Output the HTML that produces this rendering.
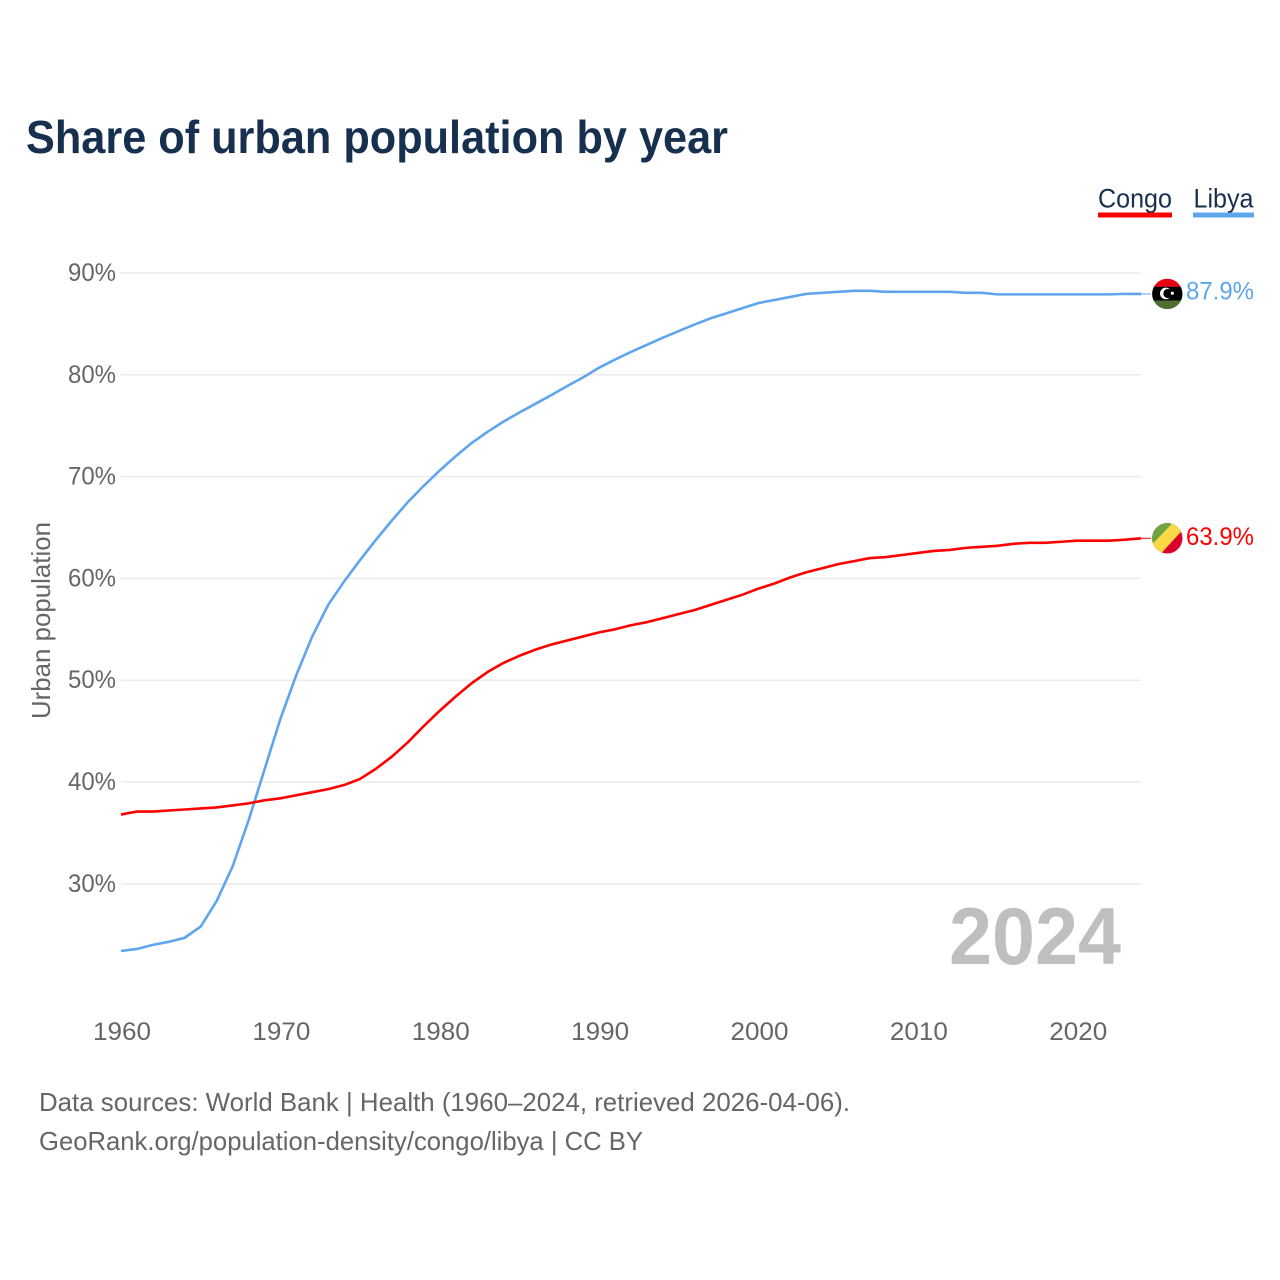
<!DOCTYPE html>
<html lang="en">
<head>
<meta charset="utf-8">
<title>Share of urban population by year</title>
<style>
html,body{margin:0;padding:0;background:#fff}
svg{display:block;font-family:"Liberation Sans",sans-serif}
</style>
</head>
<body>
<svg id="chart" width="1280" height="1280" viewBox="0 0 1280 1280" xmlns="http://www.w3.org/2000/svg">
  <defs>
    <clipPath id="flag-clip"><circle cx="0" cy="0" r="15.2"></circle></clipPath>
  </defs>
  <rect x="0" y="0" width="1280" height="1280" fill="#fff"></rect>
  <text x="26" y="153" font-size="46" font-weight="700" fill="#17304f" textLength="702" lengthAdjust="spacingAndGlyphs">Share of urban population by year</text>

  <g id="grid"></g>
  <g id="y-ticks"></g>
  <g id="x-ticks"></g>
  <text transform="translate(50,620.5) rotate(-90)" text-anchor="middle" font-size="26" fill="#666" textLength="197" lengthAdjust="spacingAndGlyphs">Urban population</text>

  <text x="949" y="964" font-size="81" font-weight="700" fill="#bfbfbf" textLength="172" lengthAdjust="spacingAndGlyphs">2024</text>

  <g id="series"></g>

  <g id="flag-libya">
    <g clip-path="url(#flag-clip)">
      <rect x="-16" y="-16" width="32" height="9" fill="#e70013"></rect>
      <rect x="-16" y="-7.2" width="32" height="14" fill="#000"></rect>
      <rect x="-16" y="6.8" width="32" height="10" fill="#4f7032"></rect>
      <circle cx="-1.5" cy="-0.5" r="5.8" fill="#fff"></circle>
      <circle cx="0.6" cy="-0.5" r="4.6" fill="#000"></circle>
      <circle cx="5" cy="-0.7" r="1.6" fill="#fff"></circle>
    </g>
  </g>
  <g id="flag-congo">
    <g clip-path="url(#flag-clip)">
      <rect x="-16" y="-16" width="32" height="32" fill="#dc002c"></rect>
      <polygon points="-16,-16 10,-16 -16,10" fill="#6ea544"></polygon>
      <polygon points="6,-16 16,-16 16,-9 -7,16 -16,16 -16,7" fill="#fbd945"></polygon>
    </g>
  </g>
  <text id="label-libya" x="1186" font-size="25" fill="#5fa5ee" textLength="68" lengthAdjust="spacingAndGlyphs"></text>
  <text id="label-congo" x="1186" font-size="25" fill="#ff0000" textLength="68" lengthAdjust="spacingAndGlyphs"></text>

  <g>
    <g>
      <text x="1098" y="207.5" font-size="27" fill="#17304f" textLength="74" lengthAdjust="spacingAndGlyphs">Congo</text>
      <rect x="1098" y="212.5" width="74" height="5" fill="#ff0000"></rect>
    </g>
    <g>
      <text x="1193.5" y="207.5" font-size="27" fill="#17304f" textLength="60" lengthAdjust="spacingAndGlyphs">Libya</text>
      <rect x="1193" y="212.5" width="61" height="5" fill="#5fa5ee"></rect>
    </g>
  </g>

  <text x="39" y="1111" font-size="26" fill="#666" textLength="811" lengthAdjust="spacingAndGlyphs">Data sources: World Bank | Health (1960–2024, retrieved 2026-04-06).</text>
  <text x="39" y="1150" font-size="26" fill="#666" textLength="604" lengthAdjust="spacingAndGlyphs">GeoRank.org/population-density/congo/libya | CC BY</text>
</svg>
<script>
const firstYear = 1960;
const xTickYears = [1960, 1970, 1980, 1990, 2000, 2010, 2020];
const yTickValues = [30, 40, 50, 60, 70, 80, 90];
const congoValues = [36.8,37.1,37.1,37.2,37.3,37.4,37.5,37.7,37.9,38.2,38.4,38.7,39.0,39.3,39.7,40.3,41.3,42.5,43.9,45.5,47.0,48.4,49.7,50.8,51.7,52.4,53.0,53.5,53.9,54.3,54.7,55.0,55.4,55.7,56.1,56.5,56.9,57.4,57.9,58.4,59.0,59.5,60.1,60.6,61.0,61.4,61.7,62.0,62.1,62.3,62.5,62.7,62.8,63.0,63.1,63.2,63.4,63.5,63.5,63.6,63.7,63.7,63.7,63.8,63.94];
const libyaValues = [23.4,23.6,24.0,24.3,24.7,25.8,28.3,31.7,36.2,41.2,46.2,50.5,54.3,57.4,59.7,61.8,63.8,65.7,67.5,69.1,70.6,72.0,73.3,74.4,75.4,76.3,77.15,78.0,78.9,79.75,80.7,81.5,82.25,82.95,83.65,84.3,84.95,85.55,86.05,86.55,87.05,87.35,87.65,87.95,88.05,88.15,88.25,88.25,88.15,88.15,88.15,88.15,88.15,88.05,88.05,87.9,87.9,87.9,87.9,87.9,87.9,87.9,87.9,87.95,87.94];

const SVG_NS = 'http://www.w3.org/2000/svg';
function xScale(year) { return 121 + (year - 1960) * (1020 / 64); }
function yScale(value) { return 273 + (90 - value) * 10.18; }
function make(tag, parent) {
  const el = document.createElementNS(SVG_NS, tag);
  parent.appendChild(el);
  return el;
}

const grid = document.getElementById('grid');
const yTicks = document.getElementById('y-ticks');
yTickValues.forEach(function (v) {
  const line = make('line', grid);
  
  
  line.setAttribute('x1', 121);
  line.setAttribute('x2', 1141);
  line.setAttribute('y1', yScale(v));
  line.setAttribute('y2', yScale(v));
  line.setAttribute('stroke', '#ebebeb');
  line.setAttribute('stroke-width', '1.5');
  const label = make('text', yTicks);
  
  
  label.setAttribute('x', 68);
  label.setAttribute('y', yScale(v) + 8);
  label.setAttribute('font-size', '25');
  label.setAttribute('fill', '#666');
  label.setAttribute('textLength', '48');
  label.setAttribute('lengthAdjust', 'spacingAndGlyphs');
  label.textContent = v + '%';
});

const xTicks = document.getElementById('x-ticks');
xTickYears.forEach(function (y) {
  const label = make('text', xTicks);
  
  
  label.setAttribute('x', xScale(y) - 28);
  label.setAttribute('y', 1040);
  label.setAttribute('font-size', '25');
  label.setAttribute('fill', '#666');
  label.setAttribute('textLength', '58');
  label.setAttribute('lengthAdjust', 'spacingAndGlyphs');
  label.textContent = String(y);
});

function linePath(values) {
  return values.map(function (v, i) {
    return (i ? 'L' : 'M') + xScale(firstYear + i).toFixed(2) + ' ' + yScale(v).toFixed(2);
  }).join(' ');
}
const seriesGroup = document.getElementById('series');

const libyaLine = make('path', seriesGroup);


libyaLine.setAttribute('d', linePath(libyaValues));
libyaLine.setAttribute('fill', 'none');
libyaLine.setAttribute('stroke', '#5fa5ee');
libyaLine.setAttribute('stroke-width', '2.6');
libyaLine.setAttribute('stroke-linejoin', 'round');

const congoLine = make('path', seriesGroup);


congoLine.setAttribute('d', linePath(congoValues));
congoLine.setAttribute('fill', 'none');
congoLine.setAttribute('stroke', '#ff0000');
congoLine.setAttribute('stroke-width', '2.6');
congoLine.setAttribute('stroke-linejoin', 'round');

const lastYear = firstYear + libyaValues.length - 1;
const libyaLast = libyaValues[libyaValues.length - 1];
const congoLast = congoValues[congoValues.length - 1];

const libyaLeader = make('line', seriesGroup);


libyaLeader.setAttribute('x1', xScale(lastYear));
libyaLeader.setAttribute('x2', xScale(lastYear) + 10);
libyaLeader.setAttribute('y1', yScale(libyaLast));
libyaLeader.setAttribute('y2', yScale(libyaLast));
libyaLeader.setAttribute('stroke', '#5fa5ee');
libyaLeader.setAttribute('stroke-width', '1');

const congoLeader = make('line', seriesGroup);


congoLeader.setAttribute('x1', xScale(lastYear));
congoLeader.setAttribute('x2', xScale(lastYear) + 10);
congoLeader.setAttribute('y1', yScale(congoLast));
congoLeader.setAttribute('y2', yScale(congoLast));
congoLeader.setAttribute('stroke', '#ff0000');
congoLeader.setAttribute('stroke-width', '1');

document.getElementById('flag-libya').setAttribute('transform', 'translate(1167.3,' + yScale(libyaLast) + ')');
document.getElementById('flag-congo').setAttribute('transform', 'translate(1167.3,' + yScale(congoLast) + ')');
const libyaLabel = document.getElementById('label-libya');
libyaLabel.setAttribute('y', yScale(libyaLast) + 5.5);
libyaLabel.textContent = libyaLast.toFixed(1) + '%';
const congoLabel = document.getElementById('label-congo');
congoLabel.setAttribute('y', yScale(congoLast) + 6.5);
congoLabel.textContent = congoLast.toFixed(1) + '%';
</script>
</body>
</html>
